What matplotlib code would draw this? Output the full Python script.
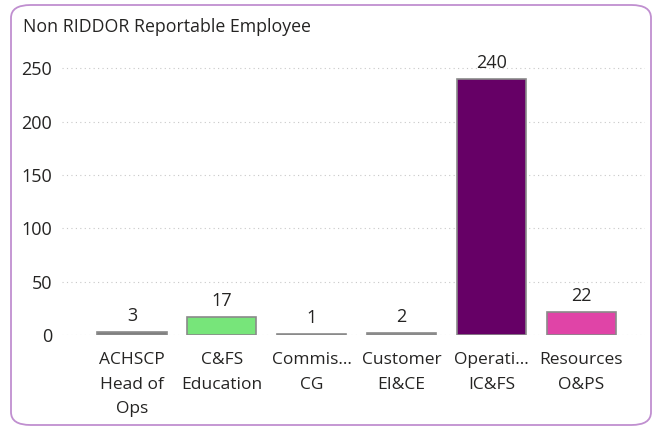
import matplotlib
matplotlib.use("Agg")
import matplotlib.pyplot as plt
from matplotlib.patches import FancyBboxPatch

# chart values
categories = ["ACHSCP\nHead of\nOps", "C&FS\nEducation", "Commis...\nCG",
              "Customer\nEI&CE", "Operati...\nIC&FS", "Resources\nO&PS"]
counts = [3, 17, 1, 2, 240, 22]
bar_colors = ["#7f7f7f", "#77e57a", "#b8b8b8", "#8c8c8c", "#660066", "#e044a7"]
yticks = [0, 50, 100, 150, 200, 250]
title = "Non RIDDOR Reportable Employee"

W, H = 654, 428
plt.rcParams['font.family'] = ['Open Sans', 'DejaVu Sans']
fig = plt.figure(figsize=(W / 100, H / 100), dpi=100)

# rounded visual border
border = FancyBboxPatch((11 / W, 1 - 425 / H), 640 / W, 420 / H,
                        boxstyle="round,pad=0,rounding_size=0.03",
                        transform=fig.transFigure, fill=False,
                        edgecolor="#c08fd0", linewidth=1.3)
fig.patches.append(border)

fig.text(23 / W, 1 - 27 / H, title, fontsize=12.8, color="#252423",
         ha="left", va="center")

ax = fig.add_axes([62 / W, 1 - 335 / H, 583 / W, 277.5 / H])
x = list(range(len(categories)))
bars = ax.bar(x, counts, width=0.77, color=bar_colors,
              edgecolor="#8a8a8a", linewidth=1.2, zorder=3)

for b, v in zip(bars, counts):
    ax.annotate(str(v), (b.get_x() + b.get_width() / 2, v),
                xytext=(0, 5), textcoords="offset points",
                ha="center", va="bottom", fontsize=13, color="#252423")

ax.set_xlim(-0.78, 5.71)
ax.set_ylim(0, 260)
ax.set_yticks(yticks)
ax.set_xticks(x)
ax.set_xticklabels(categories, fontsize=12.5, color="#252423", linespacing=1.68)
ax.tick_params(axis="y", labelsize=13, labelcolor="#252423", length=0, pad=7)
ax.tick_params(axis="x", length=0, pad=12.5)
ax.grid(axis="y", color="#c8c8c8", linestyle=(0, (1, 3)), linewidth=0.8,
        zorder=0)
for s in ax.spines.values():
    s.set_visible(False)

fig.savefig("out.png", dpi=100)
